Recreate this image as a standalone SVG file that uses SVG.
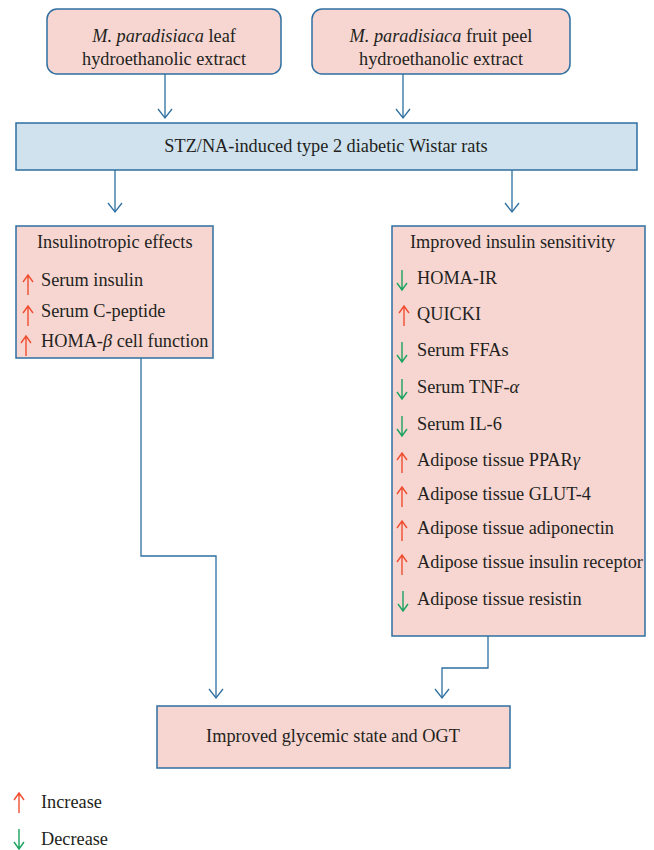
<svg xmlns="http://www.w3.org/2000/svg" width="654" height="850" viewBox="0 0 654 850">
<style>
.t{font-family:'Liberation Serif','DejaVu Serif',serif;font-size:18.3px;fill:#231f20}
.c{text-anchor:middle}
.box{fill:#f7d6d2;stroke:#2e6fa0;stroke-width:1.5}
.blue{fill:#cfe2ee;stroke:#2e6fa0;stroke-width:1.5}
.con{fill:none;stroke:#2e6fa0;stroke-width:1.3}
.up{fill:none;stroke:#f04e30;stroke-width:1.4}
.dn{fill:none;stroke:#1aa35e;stroke-width:1.4}
</style>
<defs>
<marker id="ah" markerWidth="12" markerHeight="16" refX="10" refY="8" orient="auto" markerUnits="userSpaceOnUse" viewBox="0 0 12 16">
<path d="M1,1 L10,8 L1,15" fill="none" stroke="#2e6fa0" stroke-width="1.3"/>
</marker>
<path id="upA" d="M0,-10 V10 M-5,-3 L0,-10 L5,-3" class="up"/>
<path id="dnA" d="M0,-10 V10 M-5,3 L0,10 L5,3" class="dn"/>
</defs>
<g id="connectors">
<path class="con" d="M165,74 V118" marker-end="url(#ah)"/>
<path class="con" d="M403,74 V118" marker-end="url(#ah)"/>
<path class="con" d="M115,170 V212" marker-end="url(#ah)"/>
<path class="con" d="M512,170 V212" marker-end="url(#ah)"/>
<path class="con" d="M141,358 V556 H216 V698" marker-end="url(#ah)"/>
<path class="con" d="M488,636 V668 H442 V698" marker-end="url(#ah)"/>
</g>
<g font-family="Liberation Serif, DejaVu Serif, serif" font-size="18.3" fill="#231f20">
<g id="leaf">
<rect class="box" x="47" y="9" width="234" height="65" rx="10"/>
<text class="t c" x="164" y="42"><tspan font-style="italic">M. paradisiaca</tspan> leaf</text>
<text class="t c" x="164" y="65">hydroethanolic extract</text>
</g>
<g id="peel">
<rect class="box" x="312" y="9" width="258" height="65" rx="10"/>
<text class="t c" x="441" y="42"><tspan font-style="italic">M. paradisiaca</tspan> fruit peel</text>
<text class="t c" x="441" y="65">hydroethanolic extract</text>
</g>
<g id="rats">
<rect class="blue" x="16" y="123" width="621" height="47"/>
<text class="t c" x="326" y="152">STZ/NA-induced type 2 diabetic Wistar rats</text>
</g>
<g id="insulinotropic">
<rect class="box" x="16" y="226" width="197" height="132"/>
<text class="t" x="37" y="248">Insulinotropic effects</text>
<use href="#upA" x="28" y="285"/><text class="t" x="41" y="286">Serum insulin</text>
<use href="#upA" x="28" y="316"/><text class="t" x="41" y="317">Serum C-peptide</text>
<use href="#upA" x="26" y="346"/><text class="t" x="41" y="347">HOMA-<tspan font-style="italic">β</tspan> cell function</text>
</g>
<g id="sensitivity">
<rect class="box" x="392" y="226" width="253" height="410"/>
<text class="t" x="410" y="248">Improved insulin sensitivity</text>
<use href="#dnA" x="402" y="280"/><text class="t" x="417" y="284">HOMA-IR</text>
<use href="#upA" x="404" y="316"/><text class="t" x="417" y="320">QUICKI</text>
<use href="#dnA" x="402" y="352"/><text class="t" x="417" y="356">Serum FFAs</text>
<use href="#dnA" x="402" y="389"/><text class="t" x="417" y="393">Serum TNF-<tspan font-style="italic">α</tspan></text>
<use href="#dnA" x="402" y="426"/><text class="t" x="417" y="430">Serum IL-6</text>
<use href="#upA" x="402" y="463"/><text class="t" x="417" y="466">Adipose tissue PPAR<tspan font-style="italic">γ</tspan></text>
<use href="#upA" x="402" y="497"/><text class="t" x="417" y="500">Adipose tissue GLUT-4</text>
<use href="#upA" x="402" y="531"/><text class="t" x="417" y="534">Adipose tissue adiponectin</text>
<use href="#upA" x="402" y="565"/><text class="t" x="417" y="568">Adipose tissue insulin receptor</text>
<use href="#dnA" x="403" y="601"/><text class="t" x="417" y="605">Adipose tissue resistin</text>
</g>
<g id="glycemic">
<rect class="box" x="157" y="706" width="353" height="62"/>
<text class="t c" x="333" y="742">Improved glycemic state and OGT</text>
</g>
<g id="legend">
<use href="#upA" x="19" y="803"/><text class="t" x="41" y="808">Increase</text>
<use href="#dnA" x="19" y="839"/><text class="t" x="41" y="845">Decrease</text>
</g>
</g>
</svg>
